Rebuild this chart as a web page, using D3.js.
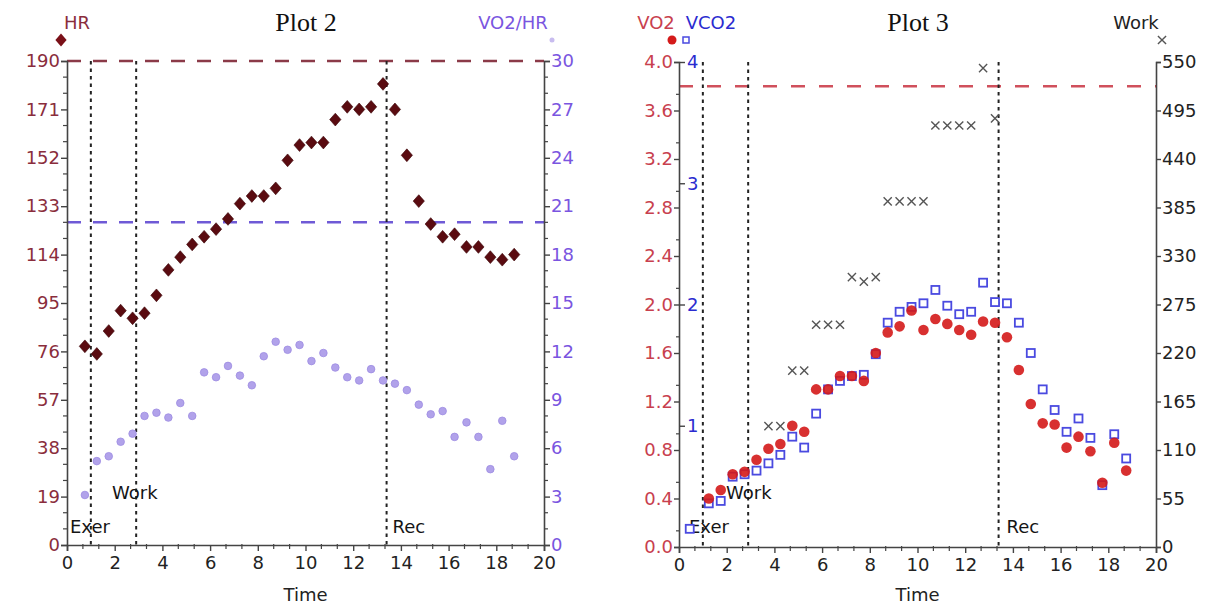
<!DOCTYPE html>
<html><head><meta charset="utf-8">
<script src="https://cdn.jsdelivr.net/npm/d3@7/dist/d3.min.js"></script>
<style>
body{margin:0;background:#fff;}
</style></head>
<body><svg id="c" width="1205" height="607"></svg>
<script>
// ---------- DATA ----------
const timeTicks = [0,2,4,6,8,10,12,14,16,18,20];
const hrTicks = [0,19,38,57,76,95,114,133,152,171,190];
const vo2hrTicks = [0,3,6,9,12,15,18,21,24,27,30];
const vo2Ticks = [0.0,0.4,0.8,1.2,1.6,2.0,2.4,2.8,3.2,3.6,4.0];
const vco2Ticks = [1,2,3,4];
const workTicks = [0,55,110,165,220,275,330,385,440,495,550];

const phaseTimes = [1.0, 2.9, 13.4];
const phaseLabels = ["Exer","Work","Rec"];

const hrTime = [0.75,1.25,1.75,2.25,2.75,3.25,3.75,4.25,4.75,5.25,5.75,6.25,6.75,7.25,7.75,8.25,8.75,9.25,9.75,10.25,10.75,11.25,11.75,12.25,12.75,13.25,13.75,14.25,14.75,15.25,15.75,16.25,16.75,17.25,17.75,18.25,18.75];
const hr = [78,75,84,92,89,91,98,108,113,118,121,124,128,134,137,137,140,151,157,158,158,167,172,171,172,181,171,153,135,126,121,122,117,117,113,112,114];
const vo2hr = [3.1,5.2,5.5,6.4,6.9,8.0,8.2,7.9,8.8,8.0,10.7,10.4,11.1,10.5,9.9,11.7,12.6,12.1,12.4,11.4,11.9,11.0,10.4,10.2,10.9,10.2,10.0,9.6,8.7,8.1,8.3,6.7,7.6,6.7,4.7,7.7,5.5];
const hrMax = 190;
const vo2hrRef = 20;

const vo2Time = [1.25,1.75,2.25,2.75,3.25,3.75,4.25,4.75,5.25,5.75,6.25,6.75,7.25,7.75,8.25,8.75,9.25,9.75,10.25,10.75,11.25,11.75,12.25,12.75,13.25,13.75,14.25,14.75,15.25,15.75,16.25,16.75,17.25,17.75,18.25,18.75];
const vo2 = [0.40,0.47,0.60,0.62,0.72,0.81,0.85,1.00,0.95,1.30,1.30,1.41,1.41,1.37,1.60,1.77,1.82,1.95,1.79,1.88,1.84,1.79,1.75,1.86,1.85,1.73,1.46,1.18,1.02,1.01,0.82,0.91,0.79,0.53,0.86,0.63];
const vco2Time = [0.45,1.25,1.75,2.25,2.75,3.25,3.75,4.25,4.75,5.25,5.75,6.25,6.75,7.25,7.75,8.25,8.75,9.25,9.75,10.25,10.75,11.25,11.75,12.25,12.75,13.25,13.75,14.25,14.75,15.25,15.75,16.25,16.75,17.25,17.75,18.25,18.75];
const vco2 = [0.15,0.36,0.38,0.58,0.60,0.63,0.69,0.76,0.91,0.82,1.10,1.30,1.37,1.41,1.42,1.59,1.85,1.94,1.98,2.01,2.12,1.99,1.92,1.94,2.18,2.02,2.01,1.85,1.60,1.30,1.13,0.95,1.06,0.90,0.51,0.93,0.73];
const workTime = [3.75,4.25,4.75,5.25,5.75,6.25,6.75,7.25,7.75,8.25,8.75,9.25,9.75,10.25,10.75,11.25,11.75,12.25,12.75,13.25];
const work = [137,137,200,200,252,252,252,306,301,306,392,392,392,392,478,478,478,478,543,486];
const vo2Max = 3.8;

// ---------- DRAW ----------
const svg = d3.select("#c");
const FS = 18;
const SANS = "'DejaVu Sans',Arial,sans-serif";
const SERIF = "'Liberation Serif','Times New Roman',serif";

function minorTicks(major){
  const out=[];
  for(let i=0;i<major.length-1;i++){
    const a=major[i], b=major[i+1];
    out.push(a+(b-a)/3, a+2*(b-a)/3);
  }
  return out;
}

function styleAxis(g, color){
  g.attr("font-family",SANS);
  g.select(".domain").attr("stroke","#444").attr("stroke-width",1.6);
  g.selectAll(".tick line").attr("stroke","#444").attr("stroke-width",1.4);
  g.selectAll(".tick text").attr("fill",color).attr("font-size",FS).attr("font-family",SANS);
}

function minor(g, scale, vals, orient, len){
  vals.forEach(v=>{
    const p=scale(v);
    let l;
    if(orient==="left") l=g.append("line").attr("x1",0).attr("x2",-len).attr("y1",p).attr("y2",p);
    if(orient==="right") l=g.append("line").attr("x1",0).attr("x2",len).attr("y1",p).attr("y2",p);
    if(orient==="bottom") l=g.append("line").attr("y1",-1).attr("y2",len).attr("x1",p).attr("x2",p);
    l.attr("stroke","#444").attr("stroke-width",1.2);
  });
}

function txt(g,x,y,s,color,anchor,size,fam){
  return g.append("text").attr("x",x).attr("y",y).attr("text-anchor",anchor||"start")
    .attr("font-family",fam||SANS).attr("font-size",size||FS).attr("fill",color).text(s);
}

function phases(x, yTop, yBot, g, labelPos){
  phaseTimes.forEach((t)=>{
    g.append("line").attr("x1",x(t)).attr("x2",x(t)).attr("y1",yTop).attr("y2",yBot)
     .attr("stroke","#222").attr("stroke-width",2).attr("stroke-dasharray","3.5,4");
  });
  labelPos.forEach((p,i)=>{ txt(g,p[0],p[1],phaseLabels[i],"#151515"); });
}

const diamond=d3.symbol().type(d3.symbolDiamond).size(70);
const dTrans="scale(1.25,0.82)";

// ===== Plot 2 =====
{
  const X0=67, X1=544, YT=61, YB=545;
  const x=d3.scaleLinear().domain([0,20]).range([X0,X1]);
  const yL=d3.scaleLinear().domain([0,190]).range([YB,YT]);
  const yR=d3.scaleLinear().domain([0,30]).range([YB,YT]);
  const g=svg.append("g");

  g.append("line").attr("x1",X0).attr("x2",X1).attr("y1",yL(hrMax)).attr("y2",yL(hrMax))
   .attr("stroke","#8b3a48").attr("stroke-width",2.5).attr("stroke-dasharray","14,12");
  g.append("line").attr("x1",X0).attr("x2",X1).attr("y1",yR(vo2hrRef)).attr("y2",yR(vo2hrRef))
   .attr("stroke","#6f5ad6").attr("stroke-width",2.5).attr("stroke-dasharray","14,12");

  phases(x, YT, YB, g, [[x(0)+3,533],[x(0)+45,499],[x(phaseTimes[2])+6,533]]);

  const ax=g.append("g").attr("transform",`translate(0,${YB})`)
    .call(d3.axisBottom(x).tickValues(timeTicks).tickFormat(d3.format("d")).tickSize(6).tickPadding(5));
  styleAxis(ax,"#222");
  minor(ax,x,minorTicks(timeTicks),"bottom",4);
  const al=g.append("g").attr("transform",`translate(${X0},0)`)
    .call(d3.axisLeft(yL).tickValues(hrTicks).tickFormat(d3.format("d")).tickSize(6).tickPadding(1));
  styleAxis(al,"#8a2d3c");
  minor(al,yL,minorTicks(hrTicks),"left",4);
  const ar=g.append("g").attr("transform",`translate(${X1},0)`)
    .call(d3.axisRight(yR).tickValues(vo2hrTicks).tickFormat(d3.format("d")).tickSize(6).tickPadding(1));
  styleAxis(ar,"#7a55e0");
  minor(ar,yR,minorTicks(vo2hrTicks),"right",4);

  g.selectAll("circle.vh").data(hrTime.map((t,i)=>[t,vo2hr[i]])).join("circle")
   .attr("cx",d=>x(d[0])).attr("cy",d=>yR(d[1])).attr("r",3.8)
   .attr("fill","#b1a2ea").attr("stroke","#9d8ce2").attr("stroke-width",0.8);
  g.selectAll("path.hr").data(hrTime.map((t,i)=>[t,hr[i]])).join("path")
   .attr("d",diamond).attr("transform",d=>`translate(${x(d[0])},${yL(d[1])}) ${dTrans}`)
   .attr("fill","#5a0b10").attr("stroke","#3a0508").attr("stroke-width",0.6);

  txt(g,306,31,"Plot 2","#111","middle",26,SERIF);
  txt(g,77,29,"HR","#8a2d3c","middle");
  g.append("path").attr("d",diamond).attr("transform",`translate(61,40) ${dTrans}`).attr("fill","#7a1018");
  txt(g,513,29,"VO2/HR","#7a55e0","middle");
  g.append("circle").attr("cx",552).attr("cy",40).attr("r",2.5).attr("fill","#c8bcef");
  txt(g,(X0+X1)/2,601,"Time","#222","middle");
}

// ===== Plot 3 =====
{
  const X0=679, X1=1156, YT=62, YB=547;
  const x=d3.scaleLinear().domain([0,20]).range([X0,X1]);
  const yL=d3.scaleLinear().domain([0,4]).range([YB,YT]);
  const yC=d3.scaleLinear().domain([0,4]).range([YB,YT]);
  const yR=d3.scaleLinear().domain([0,550]).range([YB,YT]);
  const g=svg.append("g");

  g.append("line").attr("x1",X0).attr("x2",X1).attr("y1",yL(vo2Max)).attr("y2",yL(vo2Max))
   .attr("stroke","#d0505c").attr("stroke-width",2.5).attr("stroke-dasharray","14,14");

  phases(x, YT, YB, g, [[x(0)+10,533],[x(0)+47,499],[x(phaseTimes[2])+8,533]]);

  const ax=g.append("g").attr("transform",`translate(0,${YB})`)
    .call(d3.axisBottom(x).tickValues(timeTicks).tickFormat(d3.format("d")).tickSize(6).tickPadding(5));
  styleAxis(ax,"#222");
  minor(ax,x,minorTicks(timeTicks),"bottom",4);
  const al=g.append("g").attr("transform",`translate(${X0},0)`)
    .call(d3.axisLeft(yL).tickValues(vo2Ticks).tickFormat(d3.format(".1f")).tickSize(5).tickPadding(1));
  styleAxis(al,"#c8404e");
  minor(al,yL,minorTicks(vo2Ticks).filter((d,i)=>i%2===0),"left",3);
  const ac=g.append("g").attr("transform",`translate(${X0},0)`)
    .call(d3.axisRight(yC).tickValues(vco2Ticks).tickFormat(d3.format("d")).tickSize(6).tickPadding(2));
  ac.select(".domain").remove();
  ac.selectAll(".tick line").attr("stroke","#444").attr("stroke-width",1.4);
  ac.selectAll(".tick text").attr("fill","#2b2bd0").attr("font-size",FS).attr("font-family",SANS);
  const ar=g.append("g").attr("transform",`translate(${X1},0)`)
    .call(d3.axisRight(yR).tickValues(workTicks).tickFormat(d3.format("d")).tickSize(5).tickPadding(1));
  styleAxis(ar,"#222");

  const cross=d3.symbol().type(d3.symbolX).size(45);
  g.selectAll("path.w").data(workTime.map((t,i)=>[t,work[i]])).join("path")
   .attr("d",cross).attr("transform",d=>`translate(${x(d[0])},${yR(d[1])})`)
   .attr("fill","none").attr("stroke","#555").attr("stroke-width",1.4);
  g.selectAll("rect.c").data(vco2Time.map((t,i)=>[t,vco2[i]])).join("rect")
   .attr("x",d=>x(d[0])-4).attr("y",d=>yC(d[1])-4).attr("width",8).attr("height",8)
   .attr("fill","#fff").attr("stroke","#4a4ae0").attr("stroke-width",1.8);
  g.selectAll("circle.o").data(vo2Time.map((t,i)=>[t,vo2[i]])).join("circle")
   .attr("cx",d=>x(d[0])).attr("cy",d=>yL(d[1])).attr("r",5.3)
   .attr("fill","#d41a1a").attr("fill-opacity",0.9);

  txt(g,918,31,"Plot 3","#111","middle",26,SERIF);
  txt(g,656,29,"VO2","#c8404e","middle");
  txt(g,711,29,"VCO2","#2b2bd0","middle");
  g.append("circle").attr("cx",672).attr("cy",40).attr("r",4.5).attr("fill","#d41a1a");
  g.append("rect").attr("x",683).attr("y",37).attr("width",6).attr("height",6).attr("fill","#fff").attr("stroke","#4a4ae0").attr("stroke-width",1.5);
  txt(g,1136,29,"Work","#222","middle");
  g.append("path").attr("d",cross).attr("transform","translate(1162,40)").attr("fill","none").attr("stroke","#555").attr("stroke-width",1.4);
  txt(g,(X0+X1)/2,601,"Time","#222","middle");
}
</script></body></html>
